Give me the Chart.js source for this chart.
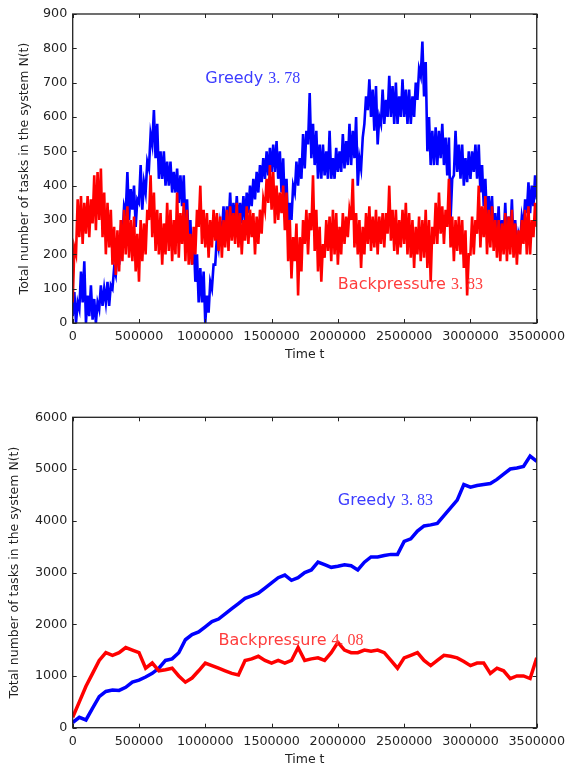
<!DOCTYPE html>
<html>
<head>
<meta charset="utf-8">
<script src="https://cdn.jsdelivr.net/npm/chart.js@4.4.1/dist/chart.umd.min.js"></script>
<style>
  html, body { margin: 0; padding: 0; background: #fff; }
  .box { position: absolute; left: 0; width: 571px; height: 385px; }
</style>
</head>
<body>
<div class="box" style="top:0"><canvas id="topChart" width="571" height="385"></canvas></div>
<div class="box" style="top:385px"><canvas id="bottomChart" width="571" height="385"></canvas></div>
<script>
// sampling step of the simulation traces
const TOP_STEP = 25000;
const BOTTOM_STEP = 50000;

// top run: noisy N(t), low / high edge of the band every 25000 steps
const topGreedyLo = [
  20, 0, 40, 60, 0, 20, 10, 0, 40, 50,
  60, 50, 100, 140, 170, 240, 320, 300, 330, 280,
  350, 330, 380, 450, 520, 480, 420, 420, 400, 400,
  380, 380, 350, 340, 280, 230, 170, 120, 60, 60,
  0, 30, 100, 170, 220, 260, 250, 280, 270, 280,
  280, 290, 300, 320, 340, 360, 380, 410, 420, 430,
  440, 440, 420, 380, 330, 280, 300, 380, 400, 420,
  450, 520, 480, 460, 420, 420, 430, 420, 420, 420,
  440, 440, 450, 460, 460, 480, 400, 450, 580, 620,
  600, 560, 520, 580, 580, 600, 600, 580, 580, 600,
  600, 580, 580, 600, 650, 720, 660, 500, 460, 460,
  460, 480, 460, 430, 300, 430, 440, 420, 400, 410,
  420, 440, 420, 380, 340, 290, 290, 240, 230, 220,
  240, 230, 250, 220, 200, 240, 280, 320, 320, 340,
  360
];
const topGreedyHi = [
  90, 60, 150, 180, 80, 110, 70, 60, 110, 100,
  120, 110, 160, 210, 260, 340, 440, 390, 400, 360,
  460, 410, 470, 550, 620, 580, 500, 500, 470, 470,
  440, 450, 430, 430, 360, 300, 250, 200, 160, 150,
  80, 120, 170, 250, 290, 340, 340, 380, 350, 370,
  350, 370, 380, 400, 420, 440, 460, 480, 500, 510,
  520, 530, 500, 480, 420, 350, 400, 470, 480, 550,
  560, 670, 580, 560, 520, 520, 500, 560, 480, 510,
  500, 550, 530, 580, 560, 600, 480, 540, 660, 710,
  680, 690, 600, 680, 650, 720, 690, 700, 660, 710,
  680, 680, 660, 700, 740, 820, 760, 600, 560, 570,
  560, 580, 540, 540, 420, 560, 520, 520, 480, 500,
  500, 520, 520, 460, 420, 370, 370, 320, 340, 300,
  350, 310, 360, 300, 260, 310, 360, 410, 400, 430,
  420
];
const topBackpressureLo = [
  60, 200, 250, 230, 260, 250, 290, 270, 300, 250,
  200, 220, 170, 140, 150, 180, 200, 190, 180, 150,
  120, 180, 200, 300, 250, 210, 200, 170, 200, 210,
  180, 200, 190, 230, 180, 170, 170, 200, 280, 230,
  220, 190, 220, 240, 210, 190, 220, 210, 240, 230,
  220, 200, 240, 230, 250, 200, 230, 260, 330, 350,
  330, 290, 300, 320, 270, 180, 130, 180, 80, 150,
  230, 200, 270, 210, 150, 120, 190, 210, 180, 200,
  170, 200, 230, 250, 300, 220, 200, 160, 200, 230,
  210, 220, 200, 230, 220, 260, 240, 210, 200, 220,
  230, 200, 190, 160, 200, 180, 190, 160, 120, 230,
  230, 260, 230, 280, 220, 180, 210, 200, 160, 80,
  200, 200, 260, 220, 250, 200, 220, 210, 190, 180,
  200, 180, 200, 190, 170, 200, 230, 200, 200, 250,
  280
];
const topBackpressureHi = [
  220, 360, 370, 350, 370, 360, 430, 440, 450, 380,
  350, 330, 280, 270, 300, 330, 340, 300, 310, 260,
  300, 290, 330, 430, 380, 330, 320, 290, 350, 330,
  300, 380, 320, 350, 330, 260, 280, 330, 400, 330,
  320, 300, 330, 320, 310, 300, 330, 340, 320, 350,
  320, 300, 340, 330, 320, 310, 330, 360, 420, 460,
  440, 400, 380, 400, 380, 300, 250, 290, 250, 300,
  330, 320, 430, 330, 280, 230, 300, 310, 330, 320,
  280, 320, 310, 330, 420, 320, 300, 280, 320, 340,
  310, 330, 310, 320, 320, 400, 330, 330, 300, 330,
  350, 320, 300, 280, 310, 300, 330, 300, 280, 350,
  380, 340, 330, 420, 310, 300, 310, 300, 270, 200,
  310, 300, 400, 340, 370, 330, 340, 300, 300, 290,
  320, 310, 330, 290, 270, 300, 330, 340, 300, 350,
  350
];

// bottom run: N(t) every 50000 steps
const bottomGreedy = [
  100, 200, 150, 380, 600, 700, 730, 720, 780, 880,
  920, 980, 1050, 1150, 1300, 1330, 1450, 1700, 1800, 1850,
  1950, 2050, 2100, 2200, 2300, 2400, 2500, 2550, 2600, 2700,
  2800, 2900, 2950, 2850, 2900, 3000, 3050, 3200, 3150, 3100,
  3120, 3150, 3130, 3050, 3200, 3300, 3300, 3330, 3350, 3350,
  3600, 3650, 3800, 3900, 3920, 3950, 4100, 4250, 4400, 4700,
  4650, 4680, 4700, 4720, 4800, 4900, 5000, 5020, 5050, 5250,
  5150
];
const bottomBackpressure = [
  200, 500, 800, 1050, 1300, 1450, 1400, 1450, 1550, 1500,
  1450, 1150, 1250, 1100, 1120, 1150, 1000, 880, 960, 1100,
  1250, 1200, 1150, 1100, 1050, 1020, 1300, 1330, 1380, 1300,
  1250, 1300, 1250, 1300, 1550, 1300, 1330, 1350, 1300, 1450,
  1650, 1500, 1450, 1450, 1500, 1480, 1500, 1450, 1300, 1150,
  1350, 1400, 1450, 1300, 1200, 1300, 1400, 1380, 1350, 1280,
  1200, 1250, 1250, 1050, 1150, 1100, 950, 1000, 1000, 950,
  1350
];

const xTicks = [0, 500000, 1000000, 1500000, 2000000, 2500000, 3000000, 3500000];
const topYTicks = [0, 100, 200, 300, 400, 500, 600, 700, 800, 900];
const bottomYTicks = [0, 1000, 2000, 3000, 4000, 5000, 6000];

const topNotes = [
  { name: 'Greedy ', score: '3. 78', t: 1000000, n: 700, color: '#3c3cff' },
  { name: 'Backpressure ', score: '3. 83', t: 2000000, n: 100, color: '#ff3c3c' }
];
const bottomNotes = [
  { name: 'Greedy ', score: '3. 83', t: 2000000, n: 4300, color: '#3c3cff' },
  { name: 'Backpressure ', score: '4. 08', t: 1100000, n: 1600, color: '#ff3c3c' }
];

const TICK_FONT = { family: 'DejaVu Sans', size: 12.7 };

function toPoints(values, step) {
  return values.map((v, i) => ({ x: i * step, y: v }));
}

// zigzag between the low and high edge so the trace reads as a noisy band
function toBand(lo, hi, step) {
  const pts = [];
  lo.forEach(function(v, i) {
    pts.push({ x: i * step, y: v });
    if (i < lo.length - 1) pts.push({ x: i * step + step / 2, y: hi[i] });
    else pts.push({ x: i * step, y: hi[i] });
  });
  return pts;
}

// matplotlib-ish frame: box, inward ticks on all sides, axis titles, text notes
const framePlugin = {
  id: 'frame',
  afterDatasetsDraw(chart, args, opts) {
    const { ctx, chartArea: a, scales: { x, y } } = chart;
    ctx.save();

    opts.notes.forEach(function(note) {
      const px = x.getPixelForValue(note.t);
      const py = y.getPixelForValue(note.n);
      ctx.fillStyle = note.color;
      ctx.textBaseline = 'alphabetic';
      ctx.textAlign = 'left';
      ctx.font = '16px "DejaVu Sans"';
      ctx.fillText(note.name, px, py);
      const w = ctx.measureText(note.name).width;
      ctx.font = '16px "Liberation Serif"';
      ctx.fillText(note.score, px + w, py);
    });

    ctx.strokeStyle = '#222';
    ctx.lineWidth = 1;
    ctx.beginPath();
    x.ticks.forEach(function(t) {
      const px = Math.round(x.getPixelForValue(t.value)) + 0.5;
      ctx.moveTo(px, a.bottom); ctx.lineTo(px, a.bottom - 4);
      ctx.moveTo(px, a.top); ctx.lineTo(px, a.top + 4);
    });
    y.ticks.forEach(function(t) {
      const py = Math.round(y.getPixelForValue(t.value)) + 0.5;
      ctx.moveTo(a.left, py); ctx.lineTo(a.left + 4, py);
      ctx.moveTo(a.right, py); ctx.lineTo(a.right - 4, py);
    });
    ctx.stroke();
    ctx.lineWidth = 1.3;
    ctx.strokeRect(a.left, a.top, a.right - a.left, a.bottom - a.top);

    ctx.fillStyle = '#222';
    ctx.font = '12.5px "DejaVu Sans"';
    ctx.textAlign = 'center';
    ctx.textBaseline = 'middle';
    ctx.fillText('Time t', (a.left + a.right) / 2, opts.xTitleY);
    ctx.translate(opts.yTitleX, (a.top + a.bottom) / 2);
    ctx.rotate(-Math.PI / 2);
    ctx.fillText('Total number of tasks in the system N(t)', 0, 0);
    ctx.restore();
  }
};

function makeChart(id, greedyData, backData, yTicks, notes, geo) {
  const ctx = document.getElementById(id).getContext('2d');
  return new Chart(ctx, {
    type: 'line',
    data: {
      datasets: [{
        label: 'Backpressure',
        data: backData,
        borderColor: '#ff0000',
        borderWidth: geo.lineWidth,
        pointRadius: 0,
        tension: 0
      }, {
        label: 'Greedy',
        data: greedyData,
        borderColor: '#0000ff',
        borderWidth: geo.lineWidth,
        pointRadius: 0,
        tension: 0
      }]
    },
    options: {
      responsive: false,
      animation: false,
      devicePixelRatio: 1,
      layout: { padding: { left: 0, right: geo.right, top: geo.top, bottom: 0 } },
      plugins: {
        legend: { display: false },
        tooltip: { enabled: false },
        frame: { notes: notes, xTitleY: geo.xTitleY, yTitleX: geo.yTitleX }
      },
      scales: {
        x: {
          type: 'linear',
          min: 0,
          max: 3500000,
          grid: { display: false, drawTicks: false },
          border: { display: false },
          afterBuildTicks: function(scale) { scale.ticks = xTicks.map(v => ({ value: v })); },
          afterFit: function(scale) { scale.height = geo.xHeight; },
          ticks: {
            autoSkip: false, maxRotation: 0, padding: 6,
            color: '#222', font: TICK_FONT,
            callback: v => String(v)
          }
        },
        y: {
          min: yTicks[0],
          max: yTicks[yTicks.length - 1],
          grid: { display: false, drawTicks: false },
          border: { display: false },
          afterBuildTicks: function(scale) { scale.ticks = yTicks.map(v => ({ value: v })); },
          afterFit: function(scale) { scale.width = 72.7; },
          ticks: {
            autoSkip: false, padding: 5.5,
            color: '#222', font: TICK_FONT,
            callback: v => String(v)
          }
        }
      }
    },
    plugins: [framePlugin]
  });
}

makeChart('topChart',
  toBand(topGreedyLo, topGreedyHi, TOP_STEP),
  toBand(topBackpressureLo, topBackpressureHi, TOP_STEP),
  topYTicks, topNotes,
  { top: 14, right: 31.7, xHeight: 62, xTitleY: 355, yTitleX: 25, lineWidth: 2.6 });
makeChart('bottomChart',
  toPoints(bottomGreedy, BOTTOM_STEP),
  toPoints(bottomBackpressure, BOTTOM_STEP),
  bottomYTicks, bottomNotes,
  { top: 32.3, right: 31.7, xHeight: 42.3, xTitleY: 375, yTitleX: 15, lineWidth: 3.5 });
</script>
</body>
</html>
